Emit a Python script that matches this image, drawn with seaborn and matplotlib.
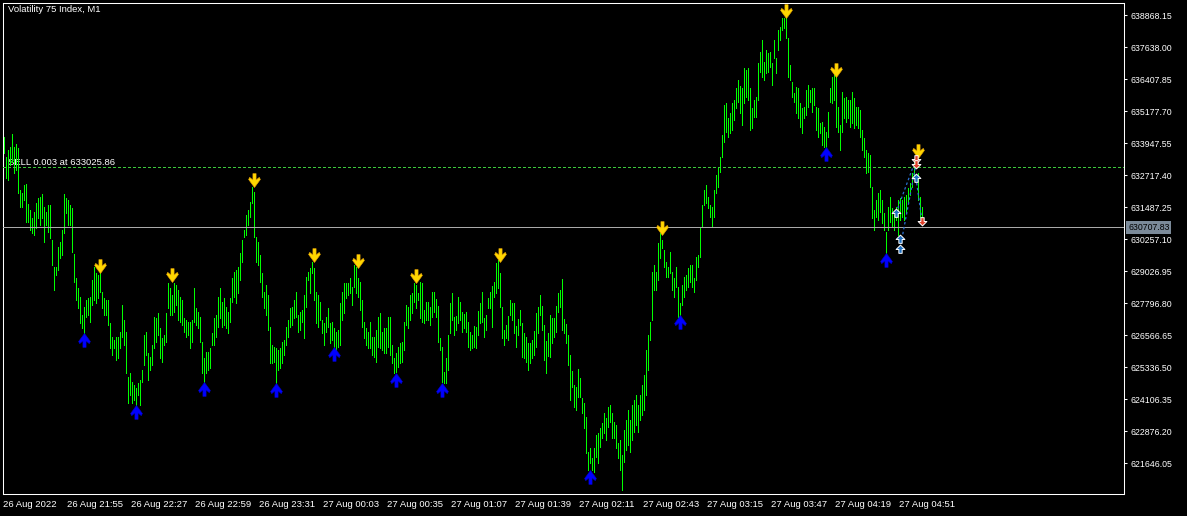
import numpy as np
import pandas as pd
import matplotlib
matplotlib.use("Agg")
import matplotlib.pyplot as plt
from matplotlib.path import Path
import seaborn as sns

sns.set_theme(style="dark")
plt.rcParams["font.family"] = ["Liberation Sans", "DejaVu Sans"]

# M1 bars (high / low), one per minute from 26 Aug 21:23
bar_high = [
    634178, 633409, 633679, 633794, 634294, 633794, 633909, 633756, 632141, 632026,
    632333, 632372, 631603, 631372, 631065, 631295, 631641, 631833, 631872, 631987,
    631487, 631295, 631564, 631564, 630219, 629181, 629181, 629950, 630142, 630603,
    631987, 631833, 631756, 631564, 631449, 629681, 628758, 628374, 628028, 627336,
    627643, 627912, 627989, 628028, 628681, 629181, 628950, 628873, 628950, 628220,
    627989, 627912, 627912, 627028, 626490, 626375, 626490, 626490, 626682, 627720,
    627143, 626682, 624952, 625106, 624760, 624645, 624529, 624722, 624837, 625221,
    626567, 626682, 625875, 625721, 626182, 627259, 627220, 627413, 626836, 626452,
    626567, 627413, 628566, 628374, 628105, 628566, 628489, 628297, 628028, 627912,
    627220, 627143, 627067, 627067, 627143, 628374, 627605, 627451, 627259, 626298,
    625683, 625913, 625913, 626067, 626644, 627220, 627336, 628028, 628374, 627835,
    627989, 627643, 627451, 627989, 628758, 628989, 629066, 629181, 629719, 630219,
    630603, 631180, 631372, 631680, 632256, 632064, 630334, 630142, 629642, 628950,
    628220, 628489, 628105, 626874, 626182, 626106, 626067, 625990, 626067, 626298,
    626375, 626874, 627143, 627605, 627643, 627912, 628220, 627336, 627451, 627528,
    628105, 628796,
    628989, 629142, 629373, 629142, 628220, 628105, 627835, 627143,
    627028, 627259, 627605, 627028, 627067, 626836, 626682, 626759, 627797, 628220,
    628566, 628566, 628566, 628758, 628412, 629258, 629181, 628758, 628604, 627912,
    627067, 626836, 626682, 627067, 626490, 626490, 626759, 627259, 627413, 626682,
    626836, 626836, 627259, 627259, 626182, 625683, 625875, 626106, 626259, 626298,
    627067, 627720, 627643, 628105, 628181, 628566, 628489, 628181, 628604, 628566,
    627528, 627835, 627835, 627643, 628220, 628220, 627951, 627682, 626452, 626106,
    625144, 625683, 626567, 627797, 628181, 627259, 627297, 628028, 627835, 627451,
    627374, 627451, 627067, 626682, 626567, 626913, 626874, 627489, 627797, 628220,
    627220, 627336, 627989, 628220, 628450, 628604, 629335, 629450, 628950, 627643,
    626759, 626951, 627297, 627912, 627797, 627797, 626913, 627182, 627528, 627028,
    626644, 626490, 626259, 626259, 626375, 626721, 627413, 627643, 628105, 627682,
    626951, 626336, 626644, 627336, 627220, 627220, 627682, 628181, 628297, 628720,
    627182, 626990, 626567, 625798, 625183, 624645, 624568, 625260, 624914, 624145,
    623953, 623415, 622069, 622223, 621838, 622223, 622723, 622800, 622992, 623184,
    623568, 623376, 623799, 623876, 623568, 623222, 623107, 622415,
    622530, 621954, 622915, 623299, 623684, 623299, 623876, 624068, 624260, 623876,
    624260, 624645, 625029, 625990, 626567,
    627067, 628989, 629258, 628989, 630103, 630488, 630219,
    629834, 629373, 629181, 629757, 628989, 628758, 629181, 628412, 627797, 628489,
    628796, 628873, 629142, 629258, 629258, 628758, 629565, 629642, 630719, 631564,
    632141, 632333, 631872, 631564, 631487, 632141, 632718, 633025, 633409, 634255,
    635408, 635485, 634909, 635101, 635485, 635601, 636062, 636369, 636139, 636062,
    636831, 636754, 636831, 636062, 635293, 635601, 635716, 637023, 637446, 637907,
    637061, 637523, 637407, 637446, 637023, 637907, 637215, 638292, 638407, 638753,
    638753, 638753, 637984, 636946, 636293, 635870, 636100, 636062, 635485, 635293,
    635332, 635985, 636177, 635985, 636062, 636062, 635332, 635293, 634717, 634755,
    634563, 634371, 635139, 636062, 636485, 636677, 636485, 635332, 634640, 635908,
    635678, 635716, 635601, 635601, 635908, 635678, 635332, 635332, 635216, 634447,
    634140, 633679, 633563, 633486, 632256, 631372, 631756, 632026, 632141, 631756,
    631257, 630526, 631487, 631872, 631449, 631180, 631487, 631756, 631833, 631756,
    631872, 631949, 632218, 632410, 632794, 633294, 633371, 632794, 631872, 631487,
]
bar_low = [
    633563, 632602, 632525, 633102, 633217, 632794, 632910, 632026, 631487, 631487,
    631756, 630911, 630911, 630603, 630488, 630411, 630680, 631065, 630795, 631065,
    630142, 630795, 630526, 630296, 629258, 628297, 628873, 629066, 629527, 629642,
    630488, 631257, 630795, 630795, 629757, 628604, 627912, 627605, 627028, 626836,
    626567, 627259, 627336, 627067, 627720, 627912, 627797, 627989, 628220, 627605,
    627336, 627336, 626951, 626067, 625798, 626067, 625606, 625683, 626067, 626490,
    626182, 625106, 623953, 624260, 623953, 624068, 623876, 624260, 623876, 624760,
    625414, 625798, 624837, 625221, 625414, 626067, 626298, 626567, 625683, 625529,
    626182, 626298, 627605, 627336, 627336, 627451, 627720, 627143, 627067, 626951,
    626682, 626490, 626567, 626067, 626298, 627067, 626951, 626836, 626298, 625106,
    624760, 625106, 625221, 625298, 626182, 626182, 626490, 626874, 627220, 626874,
    626951, 626836, 626644, 627067, 627835, 628028, 627797, 628181, 628681, 629373,
    630334, 630411, 630795, 631103, 631641, 630334, 629373, 629258, 628604, 628028,
    627605, 627336, 626759, 625490, 625490, 625529, 624722, 625221, 625298, 625490,
    625798, 626182, 626490, 626874, 626951, 627220, 627259, 626682, 626759, 627067,
    626452, 627643,
    628681, 628181, 628950, 627912, 627028, 626874, 627143, 626644,
    626182, 626682, 626874, 626259, 626375, 626106, 625990, 626106, 626182, 627143,
    627413, 627989, 628105, 628181, 627720, 628412, 628181, 628028, 627528, 626874,
    626452, 626182, 626067, 626067, 625798, 625721, 625529, 626106, 626067, 625990,
    625875, 625875, 626106, 625798, 625490, 625106, 625144, 625337, 625490, 625529,
    625990, 626951, 626836, 627143, 627413, 627835, 627605, 627912, 627220, 627067,
    627028, 627143, 627143, 626951, 627259, 627451, 627259, 626298, 625990, 624760,
    624722, 624722, 625221, 626644, 627143, 626567, 626759, 627028, 627143, 626682,
    626836, 626682, 626106, 625990, 626067, 626106, 626067, 626567, 627028, 627067,
    626490, 626759, 627605, 627605, 626874, 628028, 628181, 628374, 627643, 626452,
    626182, 626452, 626375, 627336, 627143, 626644, 626106, 626567, 626951, 625721,
    625683, 625529, 625221, 625490, 625683, 625798, 626106, 626644, 627336, 626759,
    625606, 625106, 625759, 625721, 626259, 626490, 626682, 627451, 627643, 626759,
    626644, 626259, 625414, 624068, 624568, 623799, 623684, 624183, 624183, 623568,
    622992, 622031, 621377, 621646, 621377, 621300, 621877, 621646, 622261, 622607,
    622800, 622530, 623030, 623222, 622607, 622607, 622223, 621838,
    621377, 620608, 621685, 622146, 622338, 622069, 622530, 622838, 623107, 622838,
    623299, 623491, 623684, 624260, 625221,
    626375, 627143, 628297, 628297, 628681, 629527, 629911,
    629181, 628796, 628796, 628950, 628297, 628028, 628412, 627259, 627259, 627720,
    628028, 628297, 628412, 628604, 628412, 628220, 628681, 629181, 629565, 630719,
    631564, 631641, 631449, 631103, 630719, 631103, 632026, 632256, 632833, 633409,
    633986, 634371, 634178, 634332, 634447, 634832, 635293, 635524, 635101, 634640,
    635485, 635716, 635601, 634447, 634524, 634947, 634947, 635601, 636677, 636485,
    636369, 636639, 636677, 636869, 636177, 637215, 636639, 637523, 637907, 638292,
    638368, 637984, 636485, 636369, 635716, 635524, 635101, 634909, 634563, 634332,
    634909, 635024, 635332, 635524, 635139, 635408, 634447, 634178, 634332, 633871,
    633794, 633794, 634178, 635524, 635485, 635601, 634563, 634371, 633679, 634371,
    634909, 634755, 634909, 634563, 634717, 634524, 634640, 634524, 634178, 633679,
    633409, 632794, 632833, 632256, 631065, 630603, 631103, 630988, 631295, 630872,
    630603, 629719, 630603, 630911, 630719, 630603, 630988, 630411, 630988, 631103,
    630988, 631257, 631641, 631949, 632256, 632718, 633025, 631756, 631103, 630911,
]

time_labels = ["26 Aug 2022", "26 Aug 21:55", "26 Aug 22:27", "26 Aug 22:59",
               "26 Aug 23:31", "27 Aug 00:03", "27 Aug 00:35", "27 Aug 01:07",
               "27 Aug 01:39", "27 Aug 02:11", "27 Aug 02:43", "27 Aug 03:15",
               "27 Aug 03:47", "27 Aug 04:19", "27 Aug 04:51"]
price_ticks = [638868.15, 637638.00, 636407.85, 635177.70, 633947.55,
               632717.40, 631487.25, 630257.10, 629026.95, 627796.80,
               626566.65, 625336.50, 624106.35, 622876.20, 621646.05]

# fractal arrows (bar index, price at arrow tip)
peak_bars = [48, 84, 125, 155, 177, 206, 248, 329, 391, 416, 457]
peak_prices = [628950, 628604, 632256, 629373, 629142, 628566, 629373,
               630411, 638753, 636485, 633371]
trough_bars = [40, 66, 100, 136, 165, 196, 219, 293, 338, 411, 441]
trough_prices = [626644, 623876, 624760, 624722, 626106, 625106, 624722,
                 621377, 627336, 633794, 629719]

# trade history
buy_bars = [446, 448, 448, 456]
buy_prices = [631257, 630257, 629873, 632602]
sell_bars = [456, 456, 459]
sell_prices = [633332, 633140, 630949]
line_from_bar = [446, 448, 456]
line_from_price = [631257, 629873, 632602]
line_to_bar = [456, 456, 459]
line_to_price = [633332, 633140, 630949]

sell_level = 633025.86
bid_level = 630707.83
symbol_title = "Volatility 75 Index, M1"
sell_text = "SELL 0.003 at 633025.86"

df = pd.DataFrame({"high": bar_high, "low": bar_low})
df["bar"] = np.arange(len(df))

# arrow shapes, tip at the origin
down_pts = [(-1.5, 13), (1.5, 13), (1.5, 7), (4.5, 9.5), (5.5, 7.5), (0, 0),
            (-5.5, 7.5), (-4.5, 9.5), (-1.5, 7), (-1.5, 13)]
down_arrow = Path([(x / 13, y / 13) for x, y in down_pts], closed=True)
up_arrow = Path([(x / 13, -y / 13) for x, y in down_pts], closed=True)
deal_pts = [(0, 4), (4, 0), (1.5, 0), (1.5, -3.5), (-1.5, -3.5), (-1.5, 0), (-4, 0), (0, 4)]
deal_up = Path(deal_pts, closed=True)
deal_down = Path([(x, -y) for x, y in deal_pts], closed=True)

W, H = 1187, 516
fig = plt.figure(figsize=(W / 100, H / 100), dpi=100, facecolor="black")
ax = fig.add_axes([3 / W, 22 / H, 1121 / W, 491 / H])
ax.set_facecolor("black")
ax.grid(False)

ax.vlines(df["bar"], df["low"], df["high"], colors="#00ff00",
          linewidth=0.5, antialiased=False, zorder=2)

ax.axhline(sell_level, color="#3cc83c", lw=0.7, ls=(0, (3, 3)),
           antialiased=False, zorder=3)
ax.axhline(bid_level, color="#a9a9a9", lw=0.7, antialiased=False, zorder=3)

sns.scatterplot(x=peak_bars, y=peak_prices, marker=down_arrow, s=400,
                color="#ffd700", edgecolor="#e8a000", linewidth=0.4,
                legend=False, ax=ax, zorder=4)
sns.scatterplot(x=trough_bars, y=trough_prices, marker=up_arrow, s=400,
                color="#0000ff", edgecolor="#0000c8", linewidth=0.4,
                legend=False, ax=ax, zorder=4)

for x0, p0, x1, p1 in zip(line_from_bar, line_from_price, line_to_bar, line_to_price):
    ax.plot([x0, x1], [p0, p1], color="#2a6fd0", lw=0.9, ls=(0, (2, 2)), zorder=5)

sns.scatterplot(x=buy_bars, y=buy_prices, marker=deal_up, s=40,
                color="#1f6fc0", edgecolor="white", linewidth=0.7,
                legend=False, ax=ax, zorder=6)
sns.scatterplot(x=sell_bars, y=sell_prices, marker=deal_down, s=40,
                color="#e0402a", edgecolor="white", linewidth=0.7,
                legend=False, ax=ax, zorder=6)

ax.set_xlim(-0.5, 560)
ax.set_ylim(620454.5, 639329.5)
ax.set_xlabel("")
ax.set_ylabel("")

ax.yaxis.tick_right()
ax.set_yticks(price_ticks)
ax.set_yticklabels([f"{v:.2f}" for v in price_ticks])
ax.set_xticks([32 * k - 0.5 for k in range(len(time_labels))])
ax.set_xticklabels(time_labels, ha="left")
ax.tick_params(axis="y", which="major", direction="out", length=2.2, width=0.75,
               colors="white", labelsize=6.3, pad=2.2, left=False, right=True)
ax.tick_params(axis="x", which="major", direction="out", length=3, width=0.75,
               colors="white", labelsize=6.8, pad=1.5)
for lab in ax.get_xticklabels():
    lab.set_ha("left")

for sp in ax.spines.values():
    sp.set_color("white")
    sp.set_linewidth(0.75)
    sp.set_visible(True)

ax.annotate(f"{bid_level:.2f}", xy=(1, bid_level), xycoords=("axes fraction", "data"),
            xytext=(3, 0), textcoords="offset points", va="center", ha="left",
            fontsize=6.3, color="black", annotation_clip=False,
            bbox=dict(boxstyle="square,pad=0.2", fc="#7b8a99", ec="none"))

ax.annotate(sell_text, xy=(0, sell_level), xycoords=("axes fraction", "data"),
            xytext=(3.6, 1.2), textcoords="offset points", va="baseline", ha="left",
            fontsize=6.8, color="white", zorder=1)

fig.text(8 / W, 1 - 10 / H, symbol_title, color="white", fontsize=6.8,
         va="center", ha="left")

fig.savefig("out.png", dpi=100, facecolor="black")
